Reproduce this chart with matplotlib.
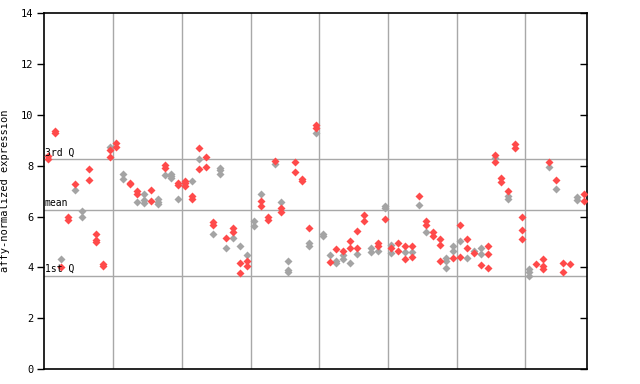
import matplotlib
matplotlib.use("Agg")
import matplotlib.pyplot as plt

# values per sample (79 samples in 8 groups), and colour flag per value (r = red, g = gray)
values = [
    [8.39, 8.26], [9.37, 9.27], [4.33, 4.0], [6.0, 5.87], [7.27, 7.05],
    [6.23, 6.0], [7.89, 7.43], [5.33, 5.08, 4.98], [4.13, 4.06], [8.72, 8.61, 8.36],
    [8.89, 8.72], [7.69, 7.47], [7.31, 7.27], [7.01, 6.9, 6.59], [6.9, 6.65, 6.55],
    [7.05, 6.62], [6.68, 6.59, 6.5], [8.04, 7.93, 7.64], [7.69, 7.6, 7.51], [7.31, 7.24, 6.71],
    [7.41, 7.31, 7.21], [7.41, 6.82, 6.71], [8.68, 8.26, 7.89], [8.36, 7.96], [5.77, 5.66, 5.3],
    [7.93, 7.84, 7.69], [5.17, 4.78], [5.53, 5.41, 5.17], [4.83, 4.16, 3.76], [4.48, 4.27, 4.04],
    [5.84, 5.61], [6.9, 6.63, 6.4], [6.0, 5.87], [8.19, 8.05], [6.59, 6.32, 6.16],
    [4.27, 3.88, 3.8], [8.13, 7.77], [7.49, 7.41], [5.53, 4.94, 4.85], [9.59, 9.49, 9.29],
    [5.3, 5.22], [4.47, 4.21], [4.72, 4.27, 4.16], [4.63, 4.47, 4.33], [5.02, 4.78, 4.19],
    [5.45, 4.77, 4.51], [6.08, 5.81], [4.75, 4.59], [4.97, 4.85, 4.63], [6.4, 6.32, 5.89],
    [4.9, 4.75, 4.56], [4.94, 4.65], [4.83, 4.59, 4.31], [4.86, 4.59, 4.39], [6.8, 6.44],
    [5.84, 5.65, 5.38], [5.38, 5.24], [5.11, 4.9, 4.27], [4.35, 4.27, 3.96], [4.86, 4.63, 4.35],
    [5.65, 5.02, 4.39], [5.1, 4.75, 4.35], [4.63, 4.55], [4.75, 4.51, 4.08], [4.83, 4.51, 3.96],
    [8.44, 8.32, 8.16], [7.53, 7.36], [7.0, 6.82, 6.71], [8.85, 8.7], [6.0, 5.49, 5.1],
    [3.92, 3.8, 3.68], [4.14], [4.31, 4.04, 3.92], [8.13, 7.97], [7.45, 7.1],
    [4.16, 3.8], [4.14], [6.78, 6.66], [6.9, 6.63],
]
flags = [
    "rr", "rr", "gr", "rr", "rg", "gg", "rr", "rrr", "rr", "grr",
    "rr", "gg", "rr", "rrg", "ggg", "rr", "ggg", "rrg", "ggg", "rrg",
    "rrr", "grr", "rgr", "rr", "rrg", "ggg", "rg", "rrg", "grr", "grr",
    "gg", "grr", "rr", "rg", "grr", "ggg", "rr", "rr", "rgg", "rrg",
    "gg", "gr", "rgg", "rgg", "rrg", "rrg", "rr", "gg", "rrg", "ggr",
    "grg", "rr", "rgr", "rgr", "rg", "rrg", "rr", "rrr", "ggg", "ggr",
    "rgr", "rrg", "gr", "ggr", "rrr", "rgr", "rr", "rgg", "rr", "rrr",
    "ggg", "r", "rrr", "rg", "rg", "rr", "r", "gg", "rr",
]
group_bounds = [10, 20, 30, 40, 50, 60, 70]
quartile_names = ["3rd Q", "mean", "1st Q"]
quartile_values = [8.25, 6.24, 3.66]
yticks = [0, 2, 4, 6, 8, 10, 12, 14]

RED = "#ff4a4a"
GRAY = "#a4a4a4"
GRID = "#a8a8a8"

fig = plt.figure(figsize=(6.4, 3.84), dpi=100)
ax = fig.add_axes([44.3 / 640, 15 / 384, (587.3 - 44.3) / 640, (369 - 13.3) / 384])

n = len(values)
ax.set_xlim(0, n)
ax.set_ylim(0, 14)

for b in group_bounds:
    ax.axvline(b, color=GRID, lw=1, zorder=1)
for qv in quartile_values:
    ax.axhline(qv, color=GRID, lw=1, zorder=1)

gx, gy, rx, ry = [], [], [], []
for i, (vals, fl) in enumerate(zip(values, flags)):
    for v, f in zip(vals, fl):
        if f == "g":
            gx.append(i + 0.5); gy.append(v)
        else:
            rx.append(i + 0.5); ry.append(v)
ax.plot(gx, gy, linestyle="none", marker="D", ms=3.8, color=GRAY, mec="none", zorder=3)
ax.plot(rx, ry, linestyle="none", marker="D", ms=3.8, color=RED, mec="none", zorder=4)

font = "DejaVu Sans Mono"
for name, qv in zip(quartile_names, quartile_values):
    ax.text(0.05, qv + 0.08, name, family=font, fontsize=7, va="bottom", ha="left", zorder=5)

ax.set_yticks(yticks)
ax.set_yticklabels([str(t) for t in yticks], family=font, fontsize=7.5)
ax.set_xticks([])
ax.tick_params(axis="y", direction="out", length=5, width=1, pad=3, right=False)
sec = ax.secondary_yaxis("right")
sec.set_yticks(yticks)
sec.tick_params(axis="y", direction="in", length=5, width=1, labelright=False)
for s in ax.spines.values():
    s.set_linewidth(1.2)
sec.spines["right"].set_visible(False)

ax.set_ylabel("affy-normalized expression", family=font, fontsize=7.5)
ax.yaxis.set_label_coords(-0.063, 0.5)

fig.savefig("out.png", dpi=100)
